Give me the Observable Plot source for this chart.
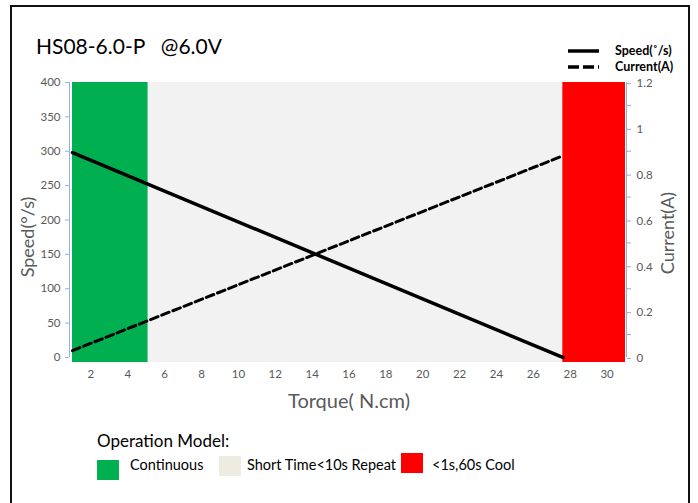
<!DOCTYPE html>
<html><head><meta charset="utf-8">
<script src="https://cdn.jsdelivr.net/npm/d3@7"></script>
<script src="https://cdn.jsdelivr.net/npm/@observablehq/plot@0.6"></script>
<style>
body{margin:0;background:#fff;font-family:Lato,"Open Sans",sans-serif;}
#wrap{position:relative;width:698px;height:503px;overflow:hidden;background:#fff;}
#frame{position:absolute;left:10px;top:5px;width:676px;height:520px;border:2px solid #111;}
.t{position:absolute;white-space:nowrap;line-height:1;}
.sw{position:absolute;}
</style></head><body>
<div id="wrap">
 <div id="frame"></div>
 <div id="chart" style="position:absolute;left:0;top:0"></div>
 <div class="t" style="left:36px;top:35px;font-size:21px;color:#000">HS08-6.0-P&nbsp;&nbsp;&nbsp;@6.0V</div>
 <svg style="position:absolute;left:560px;top:38px" width="130" height="38">
  <line x1="8" x2="39" y1="13" y2="13" stroke="#000" stroke-width="3.5"/>
  <line x1="8" x2="39" y1="29" y2="29" stroke="#000" stroke-width="3.5" stroke-dasharray="11,4"/>
  <text x="55" y="17" font-size="12.5" font-weight="bold" font-family="Lato,sans-serif">Speed(˚/s)</text>
  <text x="55" y="33" font-size="12.5" font-weight="bold" font-family="Lato,sans-serif">Current(A)</text>
 </svg>
 <div class="t" style="left:27px;top:237px;font-size:18px;color:#595959;transform:translate(-50%,-50%) rotate(-90deg);transform-origin:center;">Speed(°/s)</div>
 <div class="t" style="left:667px;top:233px;font-size:18px;color:#595959;transform:translate(-50%,-50%) rotate(-90deg);transform-origin:center;">Current(A)</div>
 <div class="t" style="left:349px;top:400px;font-size:20px;color:#595959;transform:translate(-50%,-50%);">Torque( N.cm)</div>
 <div class="t" style="left:97px;top:432px;font-size:17px;color:#000">Operation Model:</div>
 <div id="legend"></div>
</div>
<script>
// ---- data ----
const torque = [1, 27.6];
const speedVals = [298, 0];
const currentVals = [0.03, 0.88];
const zoneNames = ["Short Time<10s Repeat", "Continuous", "<1s,60s Cool"];
const zoneStart = [1, 1, 27.6];
const zoneEnd = [31, 5.1, 31];
const zoneColors = ["#f2f2f2", "#00b050", "#ff0000"];
const legendNames = ["Continuous", "Short Time<10s Repeat", "<1s,60s Cool"];
const legendColors = ["#00b050", "#eeece1", "#ff0000"];
const xTicks = [2,4,6,8,10,12,14,16,18,20,22,24,26,28,30];
const speedTicks = [0,50,100,150,200,250,300,350,400];
const currentTicks = [0,0.2,0.4,0.6,0.8,1,1.2];
const currentMinor = [0.1,0.3,0.5,0.7,0.9,1.1];

const k = 400/1.2; // current -> speed-axis factor
const yMin = -7.3;
const zones = zoneNames.map((n,i)=>({name:n, x1:zoneStart[i], x2:zoneEnd[i], color:zoneColors[i]}));
const speed = torque.map((t,i)=>({t, v:speedVals[i]}));
const current = torque.map((t,i)=>({t, v:currentVals[i]*k}));

const plot = Plot.plot({
  width:698, height:503,
  marginLeft:72, marginRight:73, marginTop:82, marginBottom:141,
  x:{domain:[1,31]},
  y:{domain:[yMin,400]},
  style:{fontFamily:"Lato, 'Open Sans', sans-serif", fontSize:"11.5px", color:"#595959", background:"transparent"},
  marks:[
    Plot.rect(zones, {x1:"x1", x2:"x2", y1:yMin, y2:400, fill:"color"}),
    Plot.ruleX([1], {y1:0, y2:400, stroke:"#8eb4e3", dx:-3}),
    Plot.ruleX([31], {y1:0, y2:400, stroke:"#8eb4e3", dx:1}),
    Plot.axisY({ticks:speedTicks, tickSize:4, dx:-3, tickPadding:5, stroke:"#8eb4e3", fill:"#595959", label:null, tickFormat:d=>String(d)}),
    Plot.axisY({anchor:"right", ticks:currentTicks.map(c=>c*k), tickSize:4, dx:1, dy:1, tickPadding:6, stroke:"#8eb4e3", fill:"#595959", label:null, tickFormat:d=>String(+(d/k).toFixed(1))}),
    Plot.axisY({anchor:"right", ticks:currentMinor.map(c=>c*k), tickSize:4, dx:1, stroke:"#8eb4e3", label:null, tickFormat:()=>""}),
    Plot.axisX({ticks:xTicks, tickSize:0, tickPadding:7, fill:"#595959", label:null}),
    Plot.line(current, {x:"t", y:"v", stroke:"#000", strokeWidth:3, strokeDasharray:"8,4"}),
    Plot.line(speed, {x:"t", y:"v", stroke:"#000", strokeWidth:3.5})
  ]
});
document.getElementById("chart").appendChild(plot);

// bottom legend
const legPos = [{x:97,y:460,tx:130},{x:219,y:456,tx:247},{x:401,y:453,tx:432}];
const leg = document.getElementById("legend");
legendNames.forEach((n,i)=>{
  const p = legPos[i];
  const s = document.createElement("div");
  s.className="sw";
  s.style.cssText=`left:${p.x}px;top:${p.y}px;width:22px;height:20px;background:${legendColors[i]};`;
  leg.appendChild(s);
  const t = document.createElement("div");
  t.className="t";
  t.style.cssText=`left:${p.tx}px;top:458px;font-size:14.5px;color:#000;`;
  t.textContent=n;
  leg.appendChild(t);
});
</script>
</body></html>
